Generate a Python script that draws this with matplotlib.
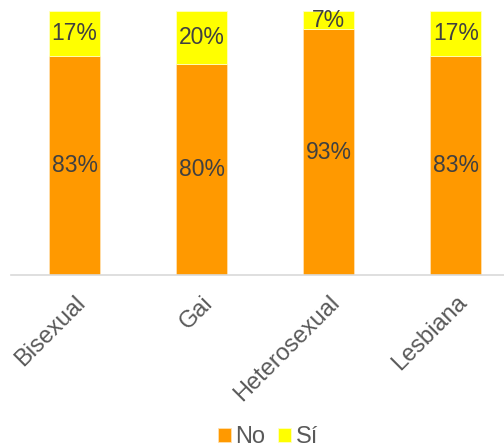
import matplotlib.pyplot as plt
import numpy as np

plt.rcParams['font.family'] = ['Liberation Sans', 'DejaVu Sans']

categorias = ["Bisexual", "Gai", "Heterosexual", "Lesbiana"]
no_vals = [83, 80, 93, 83]
si_vals = [17, 20, 7, 17]

naranja = "#FF9900"
amarillo = "#FFFF00"

fig = plt.figure(figsize=(5.04, 4.47), dpi=100)
ax = fig.add_axes([11 / 504, 172 / 447, 493 / 504, 264 / 447])

x = np.arange(len(categorias))
b1 = ax.bar(x, no_vals, 0.4, color=naranja, edgecolor="#FFE0B0", linewidth=0.6, label="No")
b2 = ax.bar(x, si_vals, 0.4, bottom=no_vals, color=amarillo, edgecolor="#FFFFC0", linewidth=0.6, label="Sí")

for i in range(len(categorias)):
    ax.text(x[i], no_vals[i] / 2, str(no_vals[i]) + "%", ha="center", va="center",
            fontsize=16.5, color="#404040")
    ax.text(x[i], no_vals[i] + si_vals[i] / 2, str(si_vals[i]) + "%", ha="center", va="center",
            fontsize=16.5, color="#404040")

ax.set_xlim(-0.5, 3.38)
ax.set_ylim(0, 100)
ax.set_yticks([])
ax.set_xticks(x)
ax.set_xticklabels(categorias, rotation=45, ha="right", rotation_mode="anchor",
                   fontsize=17, color="#595959")
ax.tick_params(axis="x", length=0, pad=12)

for s in ["top", "right", "left"]:
    ax.spines[s].set_visible(False)
ax.spines["bottom"].set_color("#D9D9D9")
ax.spines["bottom"].set_linewidth(1.2)

fig.legend(loc="center", bbox_to_anchor=(268 / 504, 1 - 437 / 447), ncol=2, frameon=False,
           fontsize=17, handlelength=0.55, handleheight=0.55, handletextpad=0.2,
           columnspacing=0.55, labelcolor="#595959", borderaxespad=0)

fig.savefig("out.png", dpi=100)
